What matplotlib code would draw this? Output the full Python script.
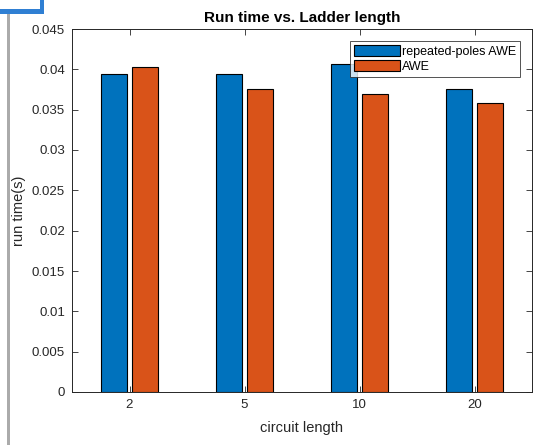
import matplotlib.pyplot as plt
import matplotlib.patches as mpatches
import numpy as np

plt.rcParams['font.family'] = ['Liberation Sans', 'DejaVu Sans']

# data
categories = ['2', '5', '10', '20']
repeated_awe = [0.0394, 0.0394, 0.0406, 0.03756]
awe = [0.0403, 0.03756, 0.0369, 0.03586]
yticks = [0, 0.005, 0.01, 0.015, 0.02, 0.025, 0.03, 0.035, 0.04, 0.045]

blue = '#0072BD'
orange = '#D95319'
axcol = '#262626'

W, H = 546, 445
fig = plt.figure(figsize=(W / 100, H / 100), dpi=100)
ax = fig.add_axes([72 / W, 1 - 392 / H, 460 / W, 363 / H])

x = np.arange(1, len(categories) + 1)
bw = 0.232
off = 0.135
ax.bar(x - off, repeated_awe, bw, color=blue, edgecolor='black', linewidth=0.8,
       label='repeated-poles AWE')
ax.bar(x + off, awe, bw, color=orange, edgecolor='black', linewidth=0.8,
       label='AWE')

ax.set_xlim(0.5, 4.5)
ax.set_ylim(0, 0.045)
ax.set_xticks(x)
ax.set_xticklabels(categories)
ax.set_yticks(yticks)
ax.set_yticklabels(['%g' % t for t in yticks])

ax.tick_params(direction='in', top=True, right=True, length=4, width=0.6,
               colors=axcol, labelsize=9.5, pad=5)
for s in ax.spines.values():
    s.set_color(axcol)
    s.set_linewidth(0.7)

ax.set_title('Run time vs. Ladder length', fontsize=11, fontweight='bold',
             color='black', pad=5)
ax.set_xlabel('circuit length', fontsize=10.5, color=axcol, labelpad=7)
ax.set_ylabel('run time(s)', fontsize=10.5, color=axcol)
ax.yaxis.set_label_coords(-0.099, 0.5)

leg = ax.legend(loc='upper right', fontsize=9, frameon=True, fancybox=False,
                edgecolor=axcol, handlelength=3.7, handleheight=1.0,
                handletextpad=0.2, borderpad=0.3, labelspacing=0.2,
                borderaxespad=0.95)
leg.get_frame().set_linewidth(0.7)

# screenshot frame remnants on the left
fig.add_artist(mpatches.Rectangle((0, 1 - 13.5 / H), 44 / W, 4 / H,
                                  transform=fig.transFigure, color='#2F7FD3', lw=0))
fig.add_artist(mpatches.Rectangle((40 / W, 1 - 13.5 / H), 4 / W, 13.5 / H,
                                  transform=fig.transFigure, color='#2F7FD3', lw=0))
fig.add_artist(mpatches.Rectangle((7 / W, 0), 3 / W, 1 - 14 / H,
                                  transform=fig.transFigure, color='#ABABAB', lw=0))

fig.savefig('out.png', dpi=100)
